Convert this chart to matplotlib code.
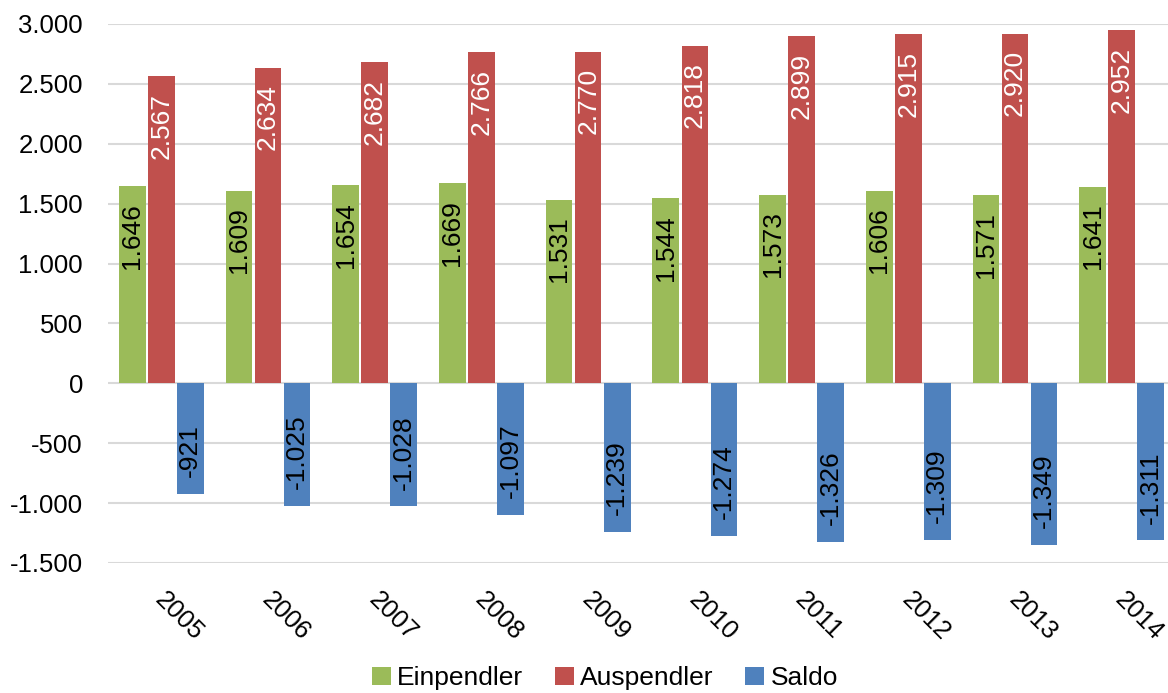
import numpy as np
import matplotlib
matplotlib.use('Agg')
import matplotlib.pyplot as plt
import matplotlib.transforms as mtransforms

plt.rcParams['font.family'] = ['Liberation Sans', 'DejaVu Sans']

# data
years = ['2005', '2006', '2007', '2008', '2009', '2010', '2011', '2012', '2013', '2014']
einpendler = [1646, 1609, 1654, 1669, 1531, 1544, 1573, 1606, 1571, 1641]
auspendler = [2567, 2634, 2682, 2766, 2770, 2818, 2899, 2915, 2920, 2952]
saldo = [-921, -1025, -1028, -1097, -1239, -1274, -1326, -1309, -1349, -1311]

series = [('Einpendler', einpendler, '#9BBB59', 'black'),
          ('Auspendler', auspendler, '#C0504D', 'white'),
          ('Saldo', saldo, '#4F81BD', 'black')]


def de_fmt(v):
    return f'{v:,}'.replace(',', '.')


fig = plt.figure(figsize=(11.68, 6.93), dpi=100)
ax = fig.add_axes([108 / 1168, 1 - 563 / 693, (1175 - 108) / 1168, (563 - 24) / 693])

x = np.arange(len(years))
w = 0.25
step = 0.272

for i, (name, vals, col, tcol) in enumerate(series):
    pos = x + (i - 1) * step
    ax.bar(pos, vals, w, color=col, label=name, zorder=2)
    for px, v in zip(pos, vals):
        off = -12 if v > 0 else 12
        ax.annotate(de_fmt(v), xy=(px, v), xytext=(0, off), textcoords='offset points',
                    ha='center', va='top' if v > 0 else 'bottom', rotation=90,
                    fontsize=19, color=tcol, zorder=3)

ax.set_xlim(-0.5, len(years) - 0.5)
ax.set_ylim(-1500, 3000)
ticks = np.arange(-1500, 3001, 500)
ax.set_yticks(ticks)
ax.set_yticklabels([de_fmt(t) for t in ticks], fontsize=18.5)
ax.yaxis.grid(True, color='#D9D9D9', linewidth=1.5, zorder=0)
ax.set_axisbelow(True)

ax.set_xticks(x)
ax.set_xticklabels(years, fontsize=18.5, rotation=-45, ha='left', va='top')
ax.tick_params(axis='x', length=0, pad=18)
ax.tick_params(axis='y', length=0, pad=18)
shift = mtransforms.ScaledTranslation(-0.11, 0, fig.dpi_scale_trans)
for lab in ax.get_xticklabels():
    lab.set_transform(lab.get_transform() + shift)
for s in ax.spines.values():
    s.set_visible(False)

fig.legend(loc='lower center', bbox_to_anchor=(0.518, -0.03), ncol=3, frameon=False,
           fontsize=19, handlelength=0.7, handleheight=0.7, handletextpad=0.25,
           columnspacing=1.2)

fig.savefig('out.png', dpi=100)
